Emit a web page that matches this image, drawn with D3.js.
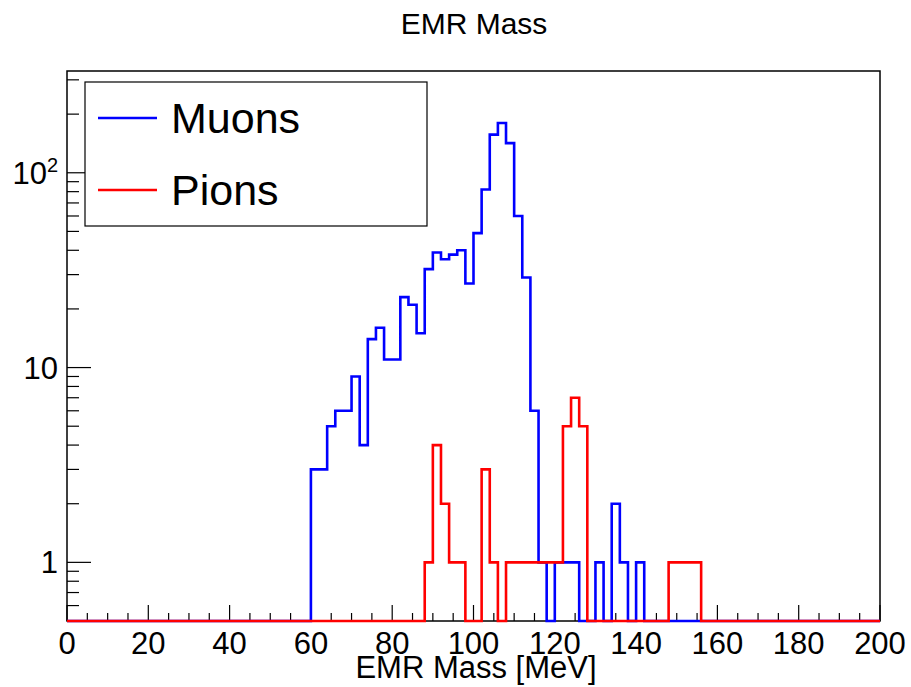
<!DOCTYPE html>
<html>
<head>
<meta charset="utf-8">
<script src="https://cdn.jsdelivr.net/npm/d3@7"></script>
<style>
    body { margin: 0; background: #fff; }
    text { font-family: "Liberation Sans", Arial, Helvetica, sans-serif; fill: #000; }
</style>
</head>
<body>
<div id="chart"></div>
<script>
// counts per 2 MeV bin, 0..200 MeV (100 bins)
var muons = [
    0, 0, 0, 0, 0, 0, 0, 0, 0, 0,
    0, 0, 0, 0, 0, 0, 0, 0, 0, 0,
    0, 0, 0, 0, 0, 0, 0, 0, 0, 0,
    3, 3, 5, 6, 6, 9, 4, 14, 16, 11,
    11, 23, 21, 15, 32, 39, 36, 38, 40, 27,
    49, 82, 157, 180, 142, 60, 29, 6, 1, 0,
    1, 1, 1, 0, 0, 1, 0, 2, 1, 0,
    1, 0, 0, 0, 0, 0, 0, 0, 0, 0,
    0, 0, 0, 0, 0, 0, 0, 0, 0, 0,
    0, 0, 0, 0, 0, 0, 0, 0, 0, 0
]
var pions = [
    0, 0, 0, 0, 0, 0, 0, 0, 0, 0,
    0, 0, 0, 0, 0, 0, 0, 0, 0, 0,
    0, 0, 0, 0, 0, 0, 0, 0, 0, 0,
    0, 0, 0, 0, 0, 0, 0, 0, 0, 0,
    0, 0, 0, 0, 1, 4, 2, 1, 1, 0,
    0, 3, 1, 0, 1, 1, 1, 1, 1, 1,
    1, 5, 7, 5, 0, 0, 0, 0, 0, 0,
    0, 0, 0, 0, 1, 1, 1, 1, 0, 0,
    0, 0, 0, 0, 0, 0, 0, 0, 0, 0,
    0, 0, 0, 0, 0, 0, 0, 0, 0, 0
]
var bin_low = 0
var bin_width = 2

var x_ticks = [0, 20, 40, 60, 80, 100, 120, 140, 160, 180, 200]
var y_major = [1, 10, 100]
var y_labels = [["1", ""], ["10", ""], ["10", "2"]]
var y_minor = [0.6, 0.7, 0.8, 0.9, 2, 3, 4, 5, 6, 7, 8, 9,
    20, 30, 40, 50, 60, 70, 80, 90, 200, 300]

var series = [
    { "name": "Muons", "values": muons, "color": "#0000ff" },
    { "name": "Pions", "values": pions, "color": "#ff0000" }
]

var width = 911;
var height = 687;
var padding = { "left": 67, "right": 31, "top": 71, "bottom": 66 };

var svg = d3.select("#chart")
    .append("svg")
    .attr("width", width)
    .attr("height", height)

var x_scale = d3.scaleLinear()
    .domain([0, 200])
    .range([padding.left, width - padding.right]);
var y_scale = d3.scaleLog()
    .domain([0.5, 333])
    .range([height - padding.bottom, padding.top]);
var y_bottom = height - padding.bottom;

// frame
svg.append("rect")
    .attr("x", padding.left)
    .attr("y", padding.top)
    .attr("width", width - padding.left - padding.right)
    .attr("height", height - padding.top - padding.bottom)
    .attr("fill", "none")
    .attr("stroke", "#000")
    .attr("stroke-width", 1.5)

// x ticks: minor every 5, major every 20
svg.selectAll(".x-minor").data(d3.range(0, 201, 5))
    .enter().append("line")
    .attr("x1", function (d) { return x_scale(d); })
    .attr("x2", function (d) { return x_scale(d); })
    .attr("y1", y_bottom)
    .attr("y2", function (d) { return d % 20 == 0 ? y_bottom - 16 : y_bottom - 8; })
    .attr("stroke", "#000")
    .attr("stroke-width", 1.2)

svg.selectAll(".x-label").data(x_ticks)
    .enter().append("text")
    .attr("x", function (d) { return x_scale(d); })
    .attr("y", 654)
    .attr("text-anchor", "middle")
    .attr("font-size", 31)
    .text(function (d) { return d; })

// y ticks
svg.selectAll(".y-major").data(y_major)
    .enter().append("line")
    .attr("x1", padding.left)
    .attr("x2", padding.left + 24)
    .attr("y1", function (d) { return y_scale(d); })
    .attr("y2", function (d) { return y_scale(d); })
    .attr("stroke", "#000")
    .attr("stroke-width", 1.2)
svg.selectAll(".y-minor").data(y_minor)
    .enter().append("line")
    .attr("x1", padding.left)
    .attr("x2", padding.left + 12)
    .attr("y1", function (d) { return y_scale(d); })
    .attr("y2", function (d) { return y_scale(d); })
    .attr("stroke", "#000")
    .attr("stroke-width", 1.2)

var y_text = svg.selectAll(".y-label").data(y_major)
    .enter().append("text")
    .attr("x", 58)
    .attr("y", function (d) { return y_scale(d) + 11; })
    .attr("text-anchor", "end")
    .attr("font-size", 31)
y_text.append("tspan")
    .text(function (d, i) { return y_labels[i][0]; })
y_text.append("tspan")
    .attr("font-size", 20)
    .attr("dy", -12)
    .text(function (d, i) { return y_labels[i][1]; })

// histograms as step outlines, zero bins sit on the frame bottom
var line = d3.line()
    .x(function (d) { return d[0]; })
    .y(function (d) { return d[1]; })
series.forEach(function (s) {
    var pts = [];
    s.values.forEach(function (v, i) {
        var lo = bin_low + i * bin_width;
        var yy = v > 0 ? y_scale(v) : y_bottom;
        pts.push([x_scale(lo), yy]);
        pts.push([x_scale(lo + bin_width), yy]);
    });
    svg.append("path")
        .attr("d", line(pts))
        .attr("fill", "none")
        .attr("stroke", s.color)
        .attr("stroke-width", 2.6)
})

// title
svg.append("text")
    .text("EMR Mass")
    .attr("x", 474)
    .attr("y", 34)
    .attr("text-anchor", "middle")
    .attr("font-size", 30)
svg.append("text")
    .text("EMR Mass [MeV]")
    .attr("x", 476)
    .attr("y", 678)
    .attr("text-anchor", "middle")
    .attr("font-size", 31)

// legend
svg.append("rect")
    .attr("x", 85)
    .attr("y", 82)
    .attr("width", 342)
    .attr("height", 144)
    .attr("fill", "#fff")
    .attr("stroke", "#000")
    .attr("stroke-width", 1.2)
svg.selectAll(".legend-line").data(series)
    .enter().append("line")
    .attr("x1", 98)
    .attr("x2", 157)
    .attr("y1", function (d, i) { return 118 + i * 72; })
    .attr("y2", function (d, i) { return 118 + i * 72; })
    .attr("stroke", function (d) { return d.color; })
    .attr("stroke-width", 2.6)
svg.selectAll(".legend-text").data(series)
    .enter().append("text")
    .attr("x", 171)
    .attr("y", function (d, i) { return 133 + i * 72; })
    .attr("font-size", 43)
    .text(function (d) { return d.name; })
</script>
</body>
</html>
